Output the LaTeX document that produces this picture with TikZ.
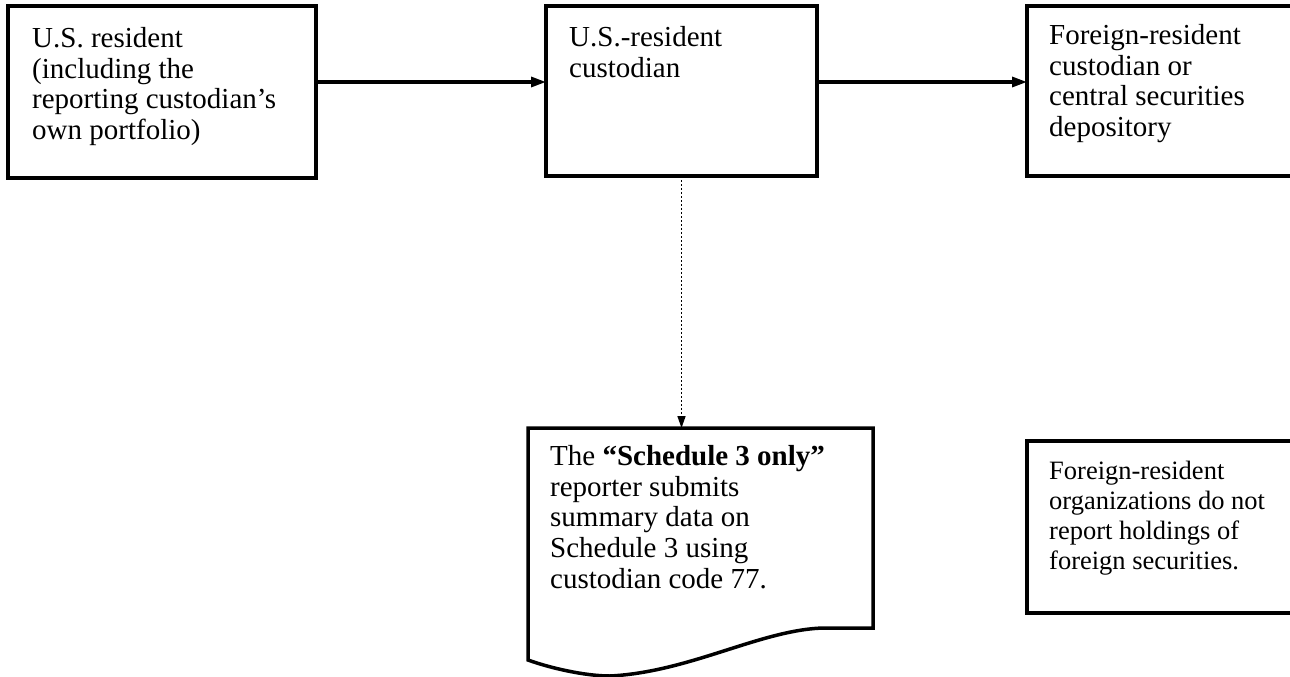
\documentclass[tikz,border=0pt]{standalone}
\usepackage{fontspec}
\setmainfont{Liberation Serif}
\usetikzlibrary{arrows.meta,calc}
\tikzset{
  box/.style={draw, line width=3.5pt, inner sep=0pt, outer sep=0pt, anchor=north west},
  bigtxt/.style={anchor=north west, inner sep=0pt, align=left, font=\fontsize{29}{30.7}\selectfont},
  smalltxt/.style={anchor=north west, inner sep=0pt, align=left, font=\fontsize{26.5}{30}\selectfont},
  flow/.style={line width=3.2pt, -{Triangle[length=15pt,width=10pt]}},
  dotflow/.style={line width=1.5pt, dash pattern=on 1.5pt off 2.5pt, -{Triangle[length=12pt,width=8pt]}}
}
\begin{document}
\begin{tikzpicture}[x=1pt,y=-1pt]
\useasboundingbox (0,0) rectangle (1290,677);
\clip (0,0) rectangle (1290,677);
% boxes
\node[box, minimum width=308pt, minimum height=172pt] (b1) at (8,6) {};
\node[box, minimum width=271pt, minimum height=170pt] (b2) at (546,6) {};
\node[box, minimum width=290pt, minimum height=170pt] (b3) at (1027,6) {};
\node[box, minimum width=290pt, minimum height=172pt] (b4) at (1027,441) {};
% document shape
\coordinate (dnw) at (528,428);
\coordinate (dne) at (873,428);
\coordinate (doctop) at (b2.south |- dnw);
\draw[line width=3.5pt, line join=miter]
  (dnw) -- (dne) -- (873,628) -- (823,628)
  .. controls (760,630) and (690,672) .. (610,676)
  .. controls (585,676) and (550,668) .. (528,660) -- cycle;
% texts
\node[bigtxt] (t1) at (32,27) {U.S. resident\\(including the\\reporting custodian’s\\own portfolio)};
\node[bigtxt] (t2) at (569,26) {U.S.-resident\\custodian};
\node[bigtxt] (t3) at (1049,24) {Foreign-resident\\custodian or\\central securities\\depository};
\node[bigtxt] (t5) at (550,445) {The \textbf{“Schedule 3 only”}\\reporter submits\\summary data on\\Schedule 3 using\\custodian code 77.};
\node[smalltxt] (t4) at (1049,461) {Foreign-resident\\organizations do not\\report holdings of\\foreign securities.};
% connectors
\coordinate (a1) at (b1.east |- 0,82);
\coordinate (a2) at (b2.east |- 0,82);
\draw[flow] (a1) -- (a1 -| b2.west);
\draw[flow] (a2) -- (a2 -| b3.west);
\draw[dotflow] (b2.south) -- (doctop);
\end{tikzpicture}
\end{document}
